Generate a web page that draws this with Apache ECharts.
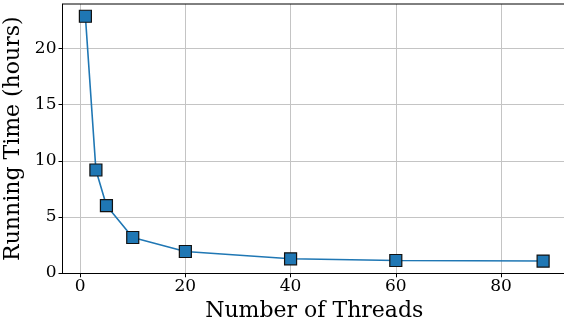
<!DOCTYPE html>
<html>
<head>
<meta charset="utf-8">
<script src="https://cdn.jsdelivr.net/npm/echarts@6/dist/echarts.min.js"></script>
<style>html,body{margin:0;padding:0;background:#fff}#c{width:564px;height:326px}</style>
</head>
<body>
<div id="c"></div>
<script>
const threads = [1, 3, 5, 10, 20, 40, 60, 88];
const hours = [22.87, 9.18, 6.01, 3.17, 1.92, 1.27, 1.12, 1.07];
const xTicks = [0, 20, 40, 60, 80];
const yTicks = [0, 5, 10, 15, 20];

const xMin = -3.35, xMax = 92.35;
const yMin = -0.02, yMax = 23.96;
const font = 'DejaVu Serif';

const chart = echarts.init(document.getElementById('c'), null, {renderer: 'canvas'});
chart.setOption({
  animation: false,
  grid: {left: 62.5, right: -2, top: 4, bottom: 52.7, containLabel: false, outerBoundsMode: 'none'},
  xAxis: {
    type: 'value', min: xMin, max: xMax, splitNumber: 5,
    name: 'Number of Threads', nameLocation: 'middle', nameGap: 24,
    nameTextStyle: {fontFamily: font, fontSize: 22, color: '#000', verticalAlign: 'top'},
    axisLine: {show: true, onZero: false, lineStyle: {color: '#000', width: 1}},
    axisTick: {show: true, length: 4, lineStyle: {color: '#000', width: 1},
      customValues: xTicks},
    axisLabel: {fontFamily: font, fontSize: 17, color: '#000', margin: 5,
      customValues: xTicks,
      formatter: v => xTicks.includes(v) ? String(v) : ''},
    splitLine: {show: true, lineStyle: {color: '#c4c4c4', width: 1}},
    splitArea: {show: false}
  },
  yAxis: {
    type: 'value', min: yMin, max: yMax, splitNumber: 5,
    name: 'Running Time (hours)', nameLocation: 'middle', nameGap: 36,
    nameTextStyle: {fontFamily: font, fontSize: 22, color: '#000'},
    axisLine: {show: true, onZero: false, lineStyle: {color: '#000', width: 1}},
    axisTick: {show: true, length: 4, lineStyle: {color: '#000', width: 1},
      customValues: yTicks},
    axisLabel: {fontFamily: font, fontSize: 17, color: '#000', margin: 6,
      customValues: yTicks,
      formatter: v => yTicks.includes(v) ? String(v) : ''},
    splitLine: {show: true, lineStyle: {color: '#c4c4c4', width: 1}}
  },
  series: [{
    type: 'line',
    data: threads.map((t, i) => [t, hours[i]]),
    symbol: 'rect', symbolSize: 12,
    lineStyle: {color: '#1f77b4', width: 1.6},
    itemStyle: {color: '#1f77b4', borderColor: '#111', borderWidth: 1.2},
    z: 5
  }],
  graphic: [{
    type: 'line', silent: true,
    shape: {x1: 62.5, y1: 4, x2: 564, y2: 4},
    style: {stroke: '#000', lineWidth: 1}, z: 10
  }]
});
</script>
</body>
</html>
